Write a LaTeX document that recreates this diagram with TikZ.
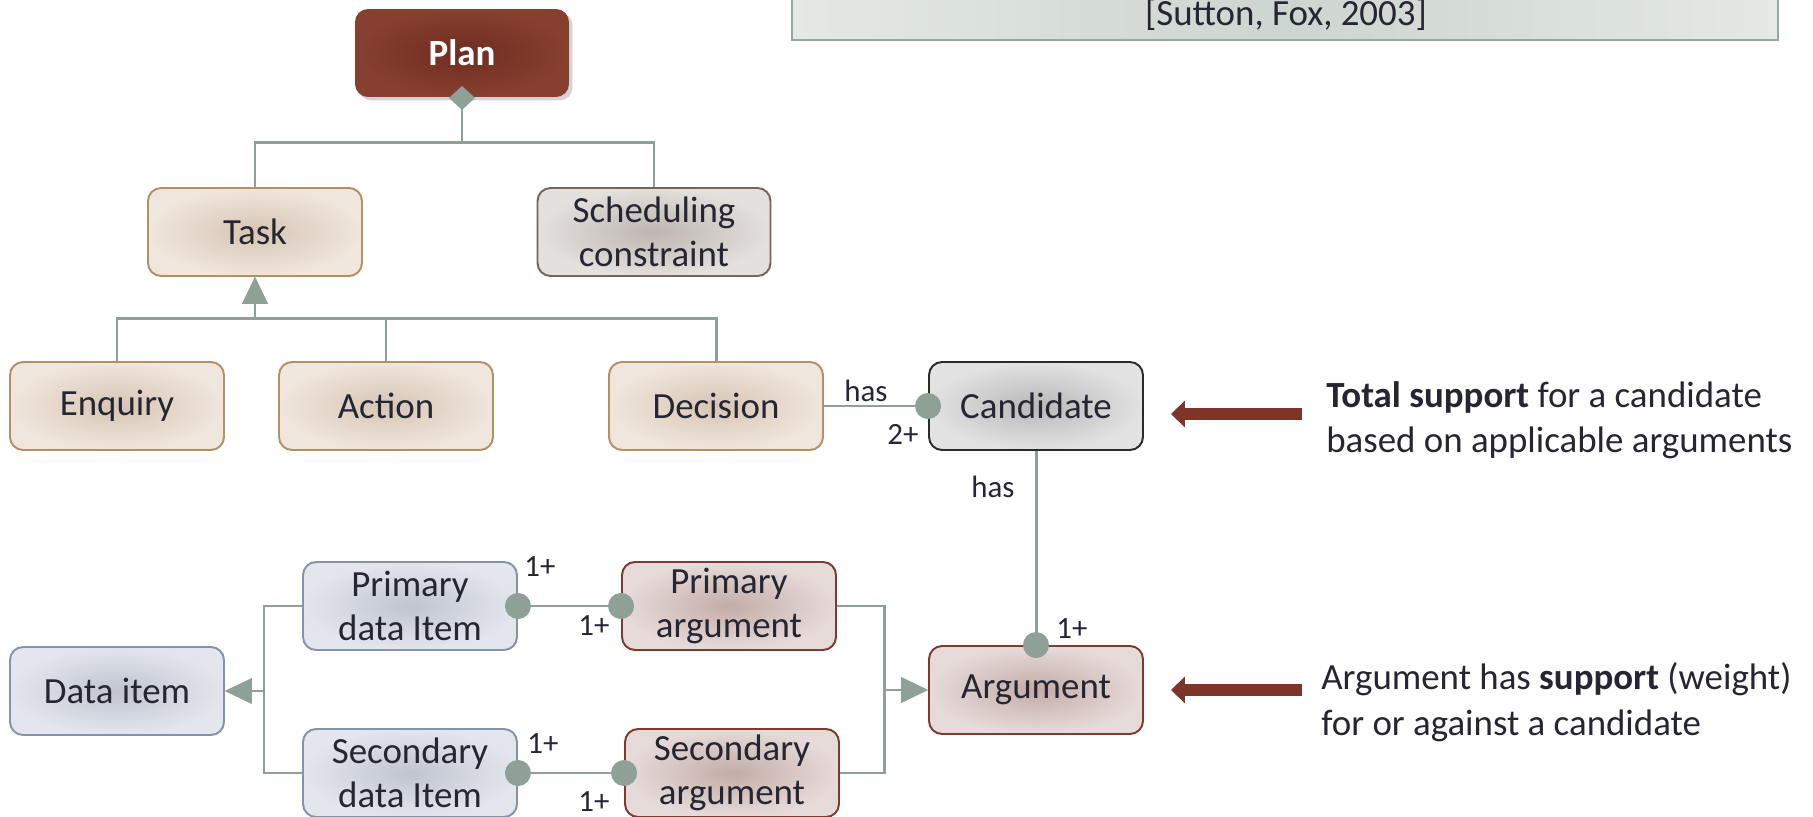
\documentclass[tikz,border=0pt]{standalone}
\usepackage{fontspec}
\setmainfont{Carlito}
\usetikzlibrary{arrows.meta,shadows}
\definecolor{ink}{HTML}{262633}
\definecolor{linkc}{HTML}{8FA096}
\definecolor{taskline}{HTML}{B39066}
\definecolor{taskmid}{HTML}{D7C5B4}
\definecolor{taskedge}{HTML}{EFE6DD}
\definecolor{schedline}{HTML}{75655C}
\definecolor{schedmid}{HTML}{BDB5B0}
\definecolor{schededge}{HTML}{E4E0DD}
\definecolor{candline}{HTML}{2A2A2A}
\definecolor{candmid}{HTML}{B8B8B8}
\definecolor{candedge}{HTML}{E2E2E2}
\definecolor{dataline}{HTML}{8593A8}
\definecolor{datamid}{HTML}{BFC4CF}
\definecolor{dataedge}{HTML}{E3E6EC}
\definecolor{argline}{HTML}{7B3B30}
\definecolor{argmid}{HTML}{C4ACA8}
\definecolor{argedge}{HTML}{E6DBD9}
\definecolor{planmid}{HTML}{6F2C22}
\definecolor{planedge}{HTML}{87402F}
\definecolor{citeline}{HTML}{97A89F}
\definecolor{citemid}{HTML}{CDD5D0}
\definecolor{citeedge}{HTML}{E4E9E6}
\definecolor{notec}{HTML}{7C3528}
\tikzset{ball/.tip={Circle[length=0.52cm]},
	gen/.tip={Triangle[length=0.54cm,width=0.5cm]},
	agg/.tip={Diamond[length=0.48cm,width=0.52cm]}}
\begin{document}
\begin{tikzpicture}[x=0.02cm,y=-0.02cm,
					box/.style = {rounded corners=0.26cm, minimum width=4.28cm, minimum height=1.76cm, inner sep=0pt, align=center, line width=1.1pt, text=ink, font=\fontsize{21}{25}\selectfont},
					task node/.style = {box, draw=taskline, inner color=taskmid, outer color=taskedge},
					sched node/.style = {box, draw=schedline, inner color=schedmid, outer color=schededge, minimum width=4.66cm},
					cand node/.style = {box, draw=candline, inner color=candmid, outer color=candedge},
					data node/.style = {box, draw=dataline, inner color=datamid, outer color=dataedge},
					arg node/.style = {box, draw=argline, inner color=argmid, outer color=argedge},
					plan node/.style = {box, text=white, font=\fontsize{21}{25}\selectfont\bfseries, inner color=planmid, outer color=planedge, drop shadow={opacity=0.35, shadow xshift=0.07cm, shadow yshift=-0.07cm}},
					link/.style = {draw=linkc, line width=1.7pt},
					lbl/.style = {text=ink, font=\fontsize{17.6}{21}\selectfont, inner sep=0pt, anchor=base},
					note/.style = {text=ink, font=\fontsize{21}{26}\selectfont, inner sep=0pt, align=left, anchor=base west},
					note arrow/.style = {draw=notec, line width=0.24cm, -{Triangle[length=0.28cm,width=0.52cm]}}]
					
					\useasboundingbox (0,0) rectangle (1813,817);
					
					\path[draw=citeline, line width=1.1pt, left color=citeedge, right color=citeedge, middle color=citemid] (792,-20) rectangle (1778,40);
					\node[text=ink, font=\fontsize{21}{25}\selectfont, anchor=base] (cite) at (1286,26) {[Sutton, Fox, 2003]};
					
					\node[plan node] (plan) at (462,53) {Plan};
					\node[task node] (task) at (255,232) {Task};
					\node[sched node] (sched) at (654,232) {Scheduling\\constraint};
					\node[task node] (enquiry) at (117,406) {Enquiry};
					\node[task node] (action) at (386,406) {Action};
					\node[task node] (decision) at (716,406) {Decision};
					\node[cand node] (cand) at (1036,406) {Candidate};
					\node[data node] (pdata) at (410,606) {Primary\\data Item};
					\node[arg node] (parg) at (729,606) {Primary\\argument};
					\node[data node] (data) at (117,691) {Data item};
					\node[data node] (sdata) at (410,773) {Secondary\\data Item};
					\node[arg node] (sarg) at (732,773) {Secondary\\argument};
					\node[arg node] (arg) at (1036,690) {Argument};
					
					\draw[link, agg-, shorten <=-0.24cm] (plan.south) -- ++(0,45) coordinate (pj) -| (task.north);
					\draw[link] (pj) -| (sched.north);
					
					\draw[link, -gen] (enquiry.north) -- ++(0,-43) -| (task.south);
					\draw[link, -gen] (action.north) -- ++(0,-43) -| (task.south);
					\draw[link, -gen] (decision.north) -- ++(0,-43) -| (task.south);
					
					\draw[link, -ball, shorten >=-0.26cm] (decision) -- (cand);
					\draw[link, -ball, shorten >=-0.26cm] (cand) -- (arg);
					\draw[link, ball-ball, shorten <=-0.26cm, shorten >=-0.26cm] (pdata) -- (parg);
					\draw[link, ball-ball, shorten <=-0.26cm, shorten >=-0.26cm] (sdata) -- (sarg);
					
					\coordinate (dbus) at (264,691);
					\draw[link, -gen] (pdata.west) -| (dbus) -- (data.east);
					\draw[link, -gen] (sdata.west) -| (dbus) -- (data.east);
					\coordinate (abus) at (884,690);
					\draw[link, -gen] (parg.east) -| (abus) -- (arg.west);
					\draw[link, -gen] (sarg.east) -| (abus) -- (arg.west);
					
					\node[lbl] (has1) at (866,402) {has};
					\node[lbl] (two) at (903,445) {2+};
					\node[lbl] (has2) at (993,498) {has};
					\node[lbl] (one1) at (1072,638) {1+};
					\node[lbl] (one2) at (540,577) {1+};
					\node[lbl] (one3) at (594,635) {1+};
					\node[lbl] (one4) at (543,753) {1+};
					\node[lbl] (one5) at (594,811) {1+};
					
					\node[note] (note1) at (1326,453) {\textbf{Total support} for a candidate\\based on applicable arguments};
					\node[note] (note2) at (1321,735) {Argument has \textbf{support} (weight)\\for or against a candidate};
					
					\draw[note arrow, shorten <=0.48cm, shorten >=0.54cm] (note1.west |- 0,414) -- (cand.east |- 0,414);
					\draw[note arrow, shorten <=0.38cm, shorten >=0.54cm] (note2.west |- arg.east) -- (arg.east);
					
					\end{tikzpicture}
\end{document}
